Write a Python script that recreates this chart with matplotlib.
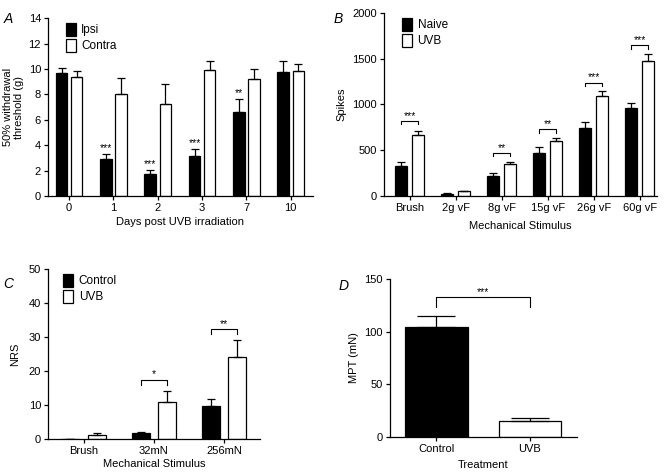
import matplotlib
matplotlib.use('Agg')
import matplotlib.pyplot as plt
from matplotlib.patches import Patch

plt.rcParams['font.family'] = ['Liberation Sans', 'DejaVu Sans']
plt.rcParams['font.size'] = 8

# Panel A
days = ['0', '1', '2', '3', '7', '10']
ipsi = [9.65, 2.9, 1.72, 3.15, 6.62, 9.75]
ipsi_err = [0.45, 0.42, 0.33, 0.55, 1.03, 0.9]
contra = [9.4, 8.05, 7.25, 9.9, 9.18, 9.87]
contra_err = [0.47, 1.25, 1.6, 0.75, 0.85, 0.55]
a_stars = ['', '***', '***', '***', '**', '']

# Panel B
stimuli_b = ['Brush', '2g vF', '8g vF', '15g vF', '26g vF', '60g vF']
naive = [333, 26, 219, 472, 739, 965]
naive_err = [40, 5, 33, 60, 68, 55]
uvb_b = [670, 55, 355, 600, 1097, 1477]
uvb_b_err = [40, 4, 20, 33, 47, 70]
b_brackets = [823, None, 472, 728, 1240, 1645]
b_stars = ['***', '', '**', '**', '***', '***']

# Panel C
stimuli_c = ['Brush', '32mN', '256mN']
control_c = [0.1, 1.77, 9.82]
control_c_err = [0.0, 0.4, 1.9]
uvb_c = [1.08, 10.9, 24.2]
uvb_c_err = [0.6, 3.15, 4.9]
c_brackets = [None, 17.5, 32.4]
c_stars = ['', '*', '**']

# Panel D
treatments = ['Control', 'UVB']
mpt = [104.7, 14.9]
mpt_err = [10.4, 3.5]

fig = plt.figure(figsize=(6.64, 4.73), dpi=100)

ax_a = fig.add_axes([0.0723, 0.5856, 0.399, 0.376])
ax_b = fig.add_axes([0.578, 0.5856, 0.411, 0.387])
ax_c = fig.add_axes([0.0723, 0.0719, 0.319, 0.359])
ax_d = fig.add_axes([0.587, 0.0761, 0.282, 0.334])

ekw = dict(ecolor='black', elinewidth=0.9, capsize=3, capthick=0.9)
STAR_SIZE = 7.5


def style(ax):
    ax.spines['top'].set_visible(False)
    ax.spines['right'].set_visible(False)
    for s in ['left', 'bottom']:
        ax.spines[s].set_linewidth(0.9)
    ax.tick_params(direction='out', length=3, width=0.9, labelsize=8, pad=2)


def pair_bars(ax, labels, v1, e1, v2, e2, width, off):
    xs = list(range(len(labels)))
    ax.bar([x - off for x in xs], v1, width, color='black', edgecolor='black', linewidth=0.9,
           yerr=[[0] * len(v1), e1], error_kw=ekw, zorder=2)
    ax.bar([x + off for x in xs], v2, width, color='white', edgecolor='black', linewidth=0.9,
           yerr=[[0] * len(v2), e2], error_kw=ekw, zorder=2)
    ax.set_xticks(xs)
    ax.set_xticklabels(labels)
    return xs


def bracket(ax, x1, x2, y, leg, text):
    ax.plot([x1, x1, x2, x2], [y - leg, y, y, y - leg], color='black', linewidth=0.8)
    ax.text((x1 + x2) / 2, y, text, ha='center', va='bottom', fontsize=STAR_SIZE)


def legend(ax, l1, l2):
    h = [Patch(facecolor='black', edgecolor='black', linewidth=0.9),
         Patch(facecolor='white', edgecolor='black', linewidth=0.9)]
    ax.legend(h, [l1, l2], loc='upper left', bbox_to_anchor=(0.05, 1.0), frameon=False,
              handlelength=0.85, handleheight=1.35, handletextpad=0.45, labelspacing=0.2,
              fontsize=8.5, borderaxespad=0)


# A
xs = pair_bars(ax_a, days, ipsi, ipsi_err, contra, contra_err, 0.26, 0.17)
for x, v, e, s in zip(xs, ipsi, ipsi_err, a_stars):
    if s:
        ax_a.text(x - 0.17, v + e + 0.05, s, ha='center', va='bottom', fontsize=STAR_SIZE)
ax_a.set_xlim(-0.475, 5.5)
ax_a.set_ylim(0, 14)
ax_a.set_yticks(range(0, 15, 2))
ax_a.set_ylabel('50% withdrawal\nthreshold (g)', labelpad=3)
ax_a.set_xlabel('Days post UVB irradiation', labelpad=3)
legend(ax_a, 'Ipsi', 'Contra')
style(ax_a)

# B
xs = pair_bars(ax_b, stimuli_b, naive, naive_err, uvb_b, uvb_b_err, 0.26, 0.19)
for x, y, s in zip(xs, b_brackets, b_stars):
    if y is not None:
        bracket(ax_b, x - 0.19, x + 0.19, y, 40, s)
ax_b.set_xlim(-0.56, 5.37)
ax_b.set_ylim(0, 2000)
ax_b.set_yticks(range(0, 2001, 500))
ax_b.set_ylabel('Spikes', labelpad=4)
ax_b.set_xlabel('Mechanical Stimulus', labelpad=6)
legend(ax_b, 'Naive', 'UVB')
style(ax_b)

# C
xs = pair_bars(ax_c, stimuli_c, control_c, control_c_err, uvb_c, uvb_c_err, 0.256, 0.19)
for x, y, s in zip(xs, c_brackets, c_stars):
    if y is not None:
        bracket(ax_c, x - 0.19, x + 0.19, y, 1.6, s)
ax_c.set_xlim(-0.51, 2.51)
ax_c.set_ylim(0, 50)
ax_c.set_yticks(range(0, 51, 10))
ax_c.set_ylabel('NRS', labelpad=6)
ax_c.set_xlabel('Mechanical Stimulus', labelpad=2)
legend(ax_c, 'Control', 'UVB')
style(ax_c)

# D
ax_d.bar([0, 1], mpt, 0.667, color=['black', 'white'], edgecolor='black', linewidth=0.9,
         yerr=[[0, 0], mpt_err], error_kw=dict(ecolor='black', elinewidth=0.9, capsize=14, capthick=0.9),
         zorder=2)
ax_d.set_xticks([0, 1])
ax_d.set_xticklabels(treatments)
bracket(ax_d, 0, 1, 132.6, 9, '***')
ax_d.set_xlim(-0.5, 1.505)
ax_d.set_ylim(0, 150)
ax_d.set_yticks(range(0, 151, 50))
ax_d.set_ylabel('MPT (mN)', labelpad=4)
ax_d.set_xlabel('Treatment', labelpad=4)
style(ax_d)

for label, x, y in [('A', 0.005, 0.975), ('B', 0.503, 0.975), ('C', 0.005, 0.415), ('D', 0.51, 0.41)]:
    fig.text(x, y, label, fontsize=10, style='italic', va='top', ha='left')

fig.savefig('out.png', dpi=100)
